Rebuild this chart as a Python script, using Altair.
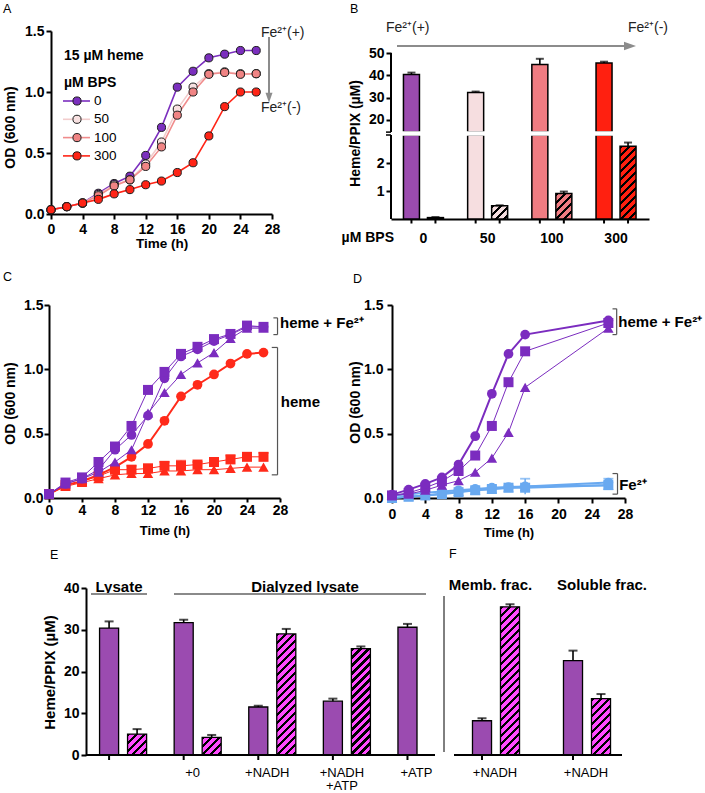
import math
import altair as alt
import pandas as pd

FONT = "Liberation Sans"
INK = "#000000"
GRAY = "#8c8c8c"
ONE = pd.DataFrame({"k": [0]})

# ---------------- Panel A: growth at increasing BPS ----------------
a_time = [0, 2, 4, 6, 8, 10, 12, 14, 16, 18, 20, 22, 24, 26]
a_levels = ["0", "50", "100", "300"]
a_od_0 = [0.035, 0.06, 0.09, 0.17, 0.25, 0.31, 0.48, 0.71, 1.04, 1.17, 1.28, 1.31, 1.34, 1.34]
a_od_50 = [0.035, 0.06, 0.09, 0.16, 0.24, 0.28, 0.41, 0.59, 0.86, 1.04, 1.15, 1.165, 1.15, 1.15]
a_od_100 = [0.035, 0.06, 0.09, 0.15, 0.23, 0.28, 0.39, 0.55, 0.81, 1.00, 1.145, 1.16, 1.145, 1.15]
a_od_300 = [0.035, 0.06, 0.09, 0.12, 0.165, 0.20, 0.24, 0.27, 0.34, 0.42, 0.64, 0.88, 1.00, 1.00]
a_fill = ["#7B2FBE", "#F8E1E1", "#F08484", "#FF2416"]
a_line = ["#7B2FBE", "#F2CDCD", "#F08C8C", "#FF2416"]

# ---------------- Panel B: heme / PPIX with BPS ----------------
b_bps = ["0", "50", "100", "300"]
b_heme = [40.4, 32.3, 44.8, 45.5]
b_heme_err = [0.8, 0.4, 2.6, 0.6]
b_ppix = [0.05, 0.47, 0.91, 2.6]
b_ppix_err = [0.02, 0.02, 0.07, 0.13]
b_colors = ["#9B4BAE", "#F6DEE0", "#F07C82", "#FF2010"]

# ---------------- Panel C: heme +/- Fe2+ ----------------
c_time = [0, 2, 4, 6, 8, 10, 12, 14, 16, 18, 20, 22, 24, 26]
c_hf_circle = [0.03, 0.11, 0.15, 0.22, 0.375, 0.49, 0.64, 0.93, 1.10, 1.155, 1.22, 1.27, 1.33, 1.33]
c_hf_square = [0.03, 0.12, 0.16, 0.28, 0.40, 0.56, 0.84, 0.98, 1.12, 1.175, 1.235, 1.275, 1.34, 1.33]
c_hf_triangle = [0.03, 0.11, 0.15, 0.20, 0.28, 0.375, 0.66, 0.82, 0.96, 1.05, 1.13, 1.24, 1.32, 1.32]
c_h_circle = [0.03, 0.10, 0.13, 0.18, 0.24, 0.32, 0.42, 0.60, 0.79, 0.88, 0.96, 1.045, 1.12, 1.13]
c_h_square = [0.03, 0.10, 0.13, 0.17, 0.22, 0.22, 0.23, 0.25, 0.25, 0.26, 0.28, 0.30, 0.32, 0.32]
c_h_square_err = [0, 0, 0, 0, 0.03, 0.03, 0.03, 0.03, 0.04, 0.02, 0.02, 0.03, 0.02, 0.03]
c_h_triangle = [0.03, 0.09, 0.12, 0.15, 0.18, 0.19, 0.19, 0.21, 0.21, 0.22, 0.22, 0.23, 0.24, 0.24]

# ---------------- Panel D: heme + Fe2+ vs Fe2+ only ----------------
d_time = [0, 2, 4, 6, 8, 10, 12, 14, 16, 26]
d_hf_circle = [0.026, 0.065, 0.11, 0.16, 0.26, 0.48, 0.81, 1.12, 1.27, 1.38]
d_hf_square = [0.02, 0.04, 0.08, 0.13, 0.21, 0.33, 0.56, 0.90, 1.14, 1.36]
d_hf_triangle = [0.02, 0.03, 0.06, 0.10, 0.135, 0.20, 0.31, 0.51, 0.86, 1.32]
d_f_circle = [0.02, 0.03, 0.04, 0.05, 0.06, 0.07, 0.08, 0.085, 0.09, 0.12]
d_f_circle_err = [0, 0, 0, 0, 0, 0.01, 0.01, 0.01, 0.06, 0.03]
d_f_square = [0.0, 0.01, 0.02, 0.03, 0.045, 0.06, 0.07, 0.08, 0.08, 0.10]
d_f_triangle = [0.0, 0.01, 0.02, 0.035, 0.05, 0.06, 0.07, 0.08, 0.09, 0.10]

# ---------------- Panels E / F: in vitro conversion ----------------
e_groups = ["Lysate", "+0", "+NADH", "+NADH+ATP", "+ATP"]
e_heme = [30.4, 31.7, 11.5, 12.9, 30.6]
e_heme_err = [1.6, 0.7, 0.3, 0.6, 0.8]
e_ppix = [5.0, 4.2, 29.0, 25.5, None]
e_ppix_err = [1.2, 0.6, 1.2, 0.5, None]
f_groups = ["Memb", "Soluble"]
f_heme = [8.2, 22.6]
f_heme_err = [0.6, 2.4]
f_ppix = [35.5, 13.5]
f_ppix_err = [0.6, 1.1]
HEME_PURPLE = "#9B4BB0"
PPIX_MAGENTA = "#FF4BFF"

LINE_PURPLE = "#7B2CBF"
LINE_RED = "#FF2A1A"
LINE_BLUE = "#69A9F0"


def ax(**kw):
    base = dict(domainColor=INK, domainWidth=2, tickColor=INK, tickWidth=2, tickSize=5,
                labelFont=FONT, labelFontSize=14, labelFontWeight="bold", labelColor=INK,
                titleFont=FONT, titleFontSize=14, titleFontWeight="bold", titleColor=INK,
                grid=False, labelFlush=False, labelOverlap=False, labelAngle=0)
    base.update(kw)
    return alt.Axis(**base)


def y_ax(values, title, tx, ty, pad=2, fmt=None, tsize=14, tick=5, **kw):
    opts = dict(values=values, title=title, titleX=tx, titleY=ty, titleAngle=270,
                titleAlign="center", titleBaseline="bottom", labelPadding=pad,
                titleFontSize=tsize, tickSize=tick, orient="left")
    if fmt:
        opts["format"] = fmt
    opts.update(kw)
    return ax(**opts)


def time_ax(w, ty, pad, tick=5, tsize=13.5):
    return ax(values=list(range(0, 29, 4)), title="Time (h)", titleX=w / 2, titleY=ty,
              titleAlign="center", titleBaseline="alphabetic", labelPadding=pad,
              tickSize=tick, titleFontSize=tsize)


def text_at(txt, x, y, size=14, weight="normal", align="left", baseline="middle", color=INK):
    return alt.Chart(ONE).mark_text(text=txt, align=align, baseline=baseline, fontSize=size,
                                    fontWeight=weight, font=FONT, color=color).encode(
        x=alt.value(x), y=alt.value(y))


def text_data(txt, x, y, xaxis, yaxis, size=15, weight="bold"):
    return alt.Chart(ONE).mark_text(text=txt, align="left", baseline="middle", fontSize=size,
                                    fontWeight=weight, font=FONT, color=INK).encode(
        x=alt.XDatum(x, axis=xaxis), y=alt.YDatum(y, axis=yaxis))


def hrule(x1, x2, y, color=INK, width=2):
    return alt.Chart(ONE).mark_rule(color=color, strokeWidth=width).encode(
        x=alt.value(x1), x2=alt.value(x2), y=alt.value(y))


def vrule(x, y1, y2, color=INK, width=1):
    return alt.Chart(ONE).mark_rule(color=color, strokeWidth=width).encode(
        x=alt.value(x), y=alt.value(y1), y2=alt.value(y2))


def anchor(x, y):
    # invisible 1x1 box that pins the extent of a panel group for the page layout
    return alt.Chart(ONE).mark_rect(opacity=0).encode(
        x=alt.value(x), x2=alt.value(x + 1), y=alt.value(y), y2=alt.value(y + 1))


def bracket(x, x_in, y_lo, y_hi, xaxis, yaxis, color="#555555"):
    mk = alt.Chart(ONE).mark_rule(color=color, strokeWidth=1.2)
    return [
        mk.encode(x=alt.XDatum(x, axis=xaxis), y=alt.YDatum(y_lo, axis=yaxis),
                  y2=alt.Y2Datum(y_hi)),
        mk.encode(x=alt.XDatum(x_in, axis=xaxis), x2=alt.X2Datum(x),
                  y=alt.YDatum(y_lo, axis=yaxis)),
        mk.encode(x=alt.XDatum(x_in, axis=xaxis), x2=alt.X2Datum(x),
                  y=alt.YDatum(y_hi, axis=yaxis)),
    ]


def hatch_fill(base, w, h, spacing=8.0, frac=0.4):
    # diagonal "///" stripes, laid out in the bar's own bounding box
    span = w + h
    stops = []
    k = 0
    while k * spacing < span:
        a = k * spacing / span
        b = min((k * spacing + frac * spacing) / span, 1.0)
        stops += [{"offset": a, "color": base}, {"offset": a, "color": INK},
                  {"offset": b, "color": INK}, {"offset": b, "color": base}]
        k += 1
    stops.append({"offset": 1.0, "color": base})
    den = w * w + h * h
    return {"gradient": "linear", "x1": 0, "y1": 0,
            "x2": span * w / den, "y2": span * h / den, "stops": stops}


def spacer(w, h):
    return alt.Chart(ONE).mark_point(opacity=0).encode(
        x=alt.value(0), y=alt.value(0)).properties(width=w, height=h)


def growth_layers(df, specs, xenc, yenc, yaxis):
    layers = []
    for name, color, shape, lw, size in specs:
        sub = alt.Chart(df).transform_filter(alt.datum.series == name)
        layers.append(sub.mark_line(color=color, strokeWidth=lw).encode(x=xenc, y=yenc))
        errs = sub.transform_filter(alt.datum.err > 0)
        layers.append(errs.mark_rule(color=color, strokeWidth=1.5).encode(
            x=xenc, y=alt.Y("lo:Q", axis=yaxis), y2="hi:Q"))
        layers.append(errs.mark_tick(color=color, orient="horizontal", size=10, thickness=1.8).encode(
            x=xenc, y=alt.Y("hi:Q", axis=yaxis)))
        layers.append(sub.mark_point(shape=shape, filled=True, fill=color, size=size,
                                     opacity=1).encode(x=xenc, y=yenc))
    return layers


def long_df(times, series):
    rows = []
    for name, vals, errs in series:
        errs = errs or [0] * len(vals)
        for t, v, e in zip(times, vals, errs):
            rows.append({"time": t, "series": name, "od": v, "lo": v - e, "hi": v + e, "err": e})
    return pd.DataFrame(rows)


# ======================= Panel A =======================
A_W, A_H = 221, 183
a_df = pd.DataFrame({
    "time": a_time * 4,
    "bps": [lv for lv in a_levels for _ in a_time],
    "od": a_od_0 + a_od_50 + a_od_100 + a_od_300,
})
xA = alt.X("time:Q", scale=alt.Scale(domain=[0, 28], nice=False, zero=False),
           axis=time_ax(A_W, 33, 3))
yA = alt.Y("od:Q", scale=alt.Scale(domain=[0, 1.5], nice=False),
           axis=y_ax([0, 0.5, 1.0, 1.5], "OD (600 nm)", -34, 96, fmt=".1f"))
la = [anchor(-50, -30), anchor(0, A_H + 49)]
for lv, fc, lc in zip(a_levels, a_fill, a_line):
    la.append(alt.Chart(a_df).transform_filter(alt.datum.bps == lv)
              .mark_line(color=lc, strokeWidth=1.6).encode(x=xA, y=yA))
for lv, fc, lc in zip(a_levels, a_fill, a_line):
    la.append(alt.Chart(a_df).transform_filter(alt.datum.bps == lv)
              .mark_point(shape="circle", filled=True, fill=fc, stroke="#1c1c1c",
                          strokeWidth=1, size=66, opacity=1).encode(x=xA, y=yA))
la.append(text_at("15 µM heme", 13, 25, weight="bold"))
la.append(text_at("µM BPS", 13, 52, weight="bold"))
for i, (lv, fc, lc) in enumerate(zip(a_levels, a_fill, a_line)):
    ly = 70 + i * 18.3
    la.append(hrule(12, 39, ly, color=lc, width=1.6))
    la.append(alt.Chart(ONE).mark_point(shape="circle", filled=True, fill=fc, stroke="#1c1c1c",
                                        strokeWidth=1, size=66, opacity=1).encode(
        x=alt.value(26), y=alt.value(ly)))
    la.append(text_at(lv, 43, ly, size=13.5))
la.append(vrule(218, 6, 63, color=GRAY, width=2))
la.append(alt.Chart(ONE).mark_point(shape="M-0.7,-1L0.7,-1L0,1Z", filled=True, fill=GRAY,
                                    size=100, opacity=1).encode(x=alt.value(218), y=alt.value(66.7)))
la.append(text_at("Fe²⁺(+)", 210, 2, color="#222222"))
la.append(text_at("Fe²⁺(-)", 210, 77, color="#222222"))
la.append(text_at("A", -48, -18, size=12.5, baseline="alphabetic"))
chart_a = alt.layer(*la).properties(width=A_W, height=A_H)

# ======================= Panel B (broken y axis in one view) =======================
B_W, B_H = 258, 183
B_TOP50 = 22.0            # pixel of 50 µM
B_TOP_PPU = 78.0 / 35.0   # pixels per µM, upper segment
B_BREAK_LO = 14.5         # lower end of the upper segment
B_ZERO = 188.0            # pixel of 0 µM (x axis sits 5 px under the view)
B_BOT_PPU = 28.0          # pixels per µM, lower segment
B_BOT_MAX = 3.0
top_dom = [50 - (B_H - B_TOP50) / B_TOP_PPU, 50 + B_TOP50 / B_TOP_PPU]
bot_dom = [(B_ZERO - B_H) / B_BOT_PPU, B_ZERO / B_BOT_PPU]
brk_top_px = B_TOP50 + (50 - B_BREAK_LO) * B_TOP_PPU
brk_bot_px = B_ZERO - B_BOT_MAX * B_BOT_PPU

b_rows = []
for g, hv, he, pv, pe in zip(b_bps, b_heme, b_heme_err, b_ppix, b_ppix_err):
    b_rows.append({"bps": g, "series": "heme", "value": hv, "top": hv + he})
    b_rows.append({"bps": g, "series": "ppix", "value": pv, "top": pv + pe})
b_df = pd.DataFrame(b_rows)
xB = alt.X("bps:N", sort=b_bps,
           scale=alt.Scale(domain=b_bps, paddingInner=0.377, paddingOuter=0.198, align=0.49),
           axis=ax(offset=B_ZERO - B_H, ticks=False, tickSize=0, labelPadding=12, title=None))
b_off = alt.XOffset("series:N", scale=alt.Scale(domain=["heme", "ppix"], paddingInner=1 / 3,
                                                paddingOuter=0))
b_fill = alt.Color("bps:N", scale=alt.Scale(domain=b_bps, range=b_colors), legend=None)


def yBt(field, axis=None):
    return alt.Y(f"{field}:Q", scale=alt.Scale(domain=top_dom, nice=False, zero=False), axis=axis)


def yBb(field, axis=None):
    return alt.Y(f"{field}:Q", scale=alt.Scale(domain=bot_dom, nice=False, zero=False), axis=axis)


b_top_axis = y_ax([20, 30, 40, 50], "Heme/PPIX (µM)", -29, 102, domain=False)
b_bot_axis = y_ax([1, 2], None, -29, 0, domain=False)
b_h = alt.Chart(b_df).transform_filter(alt.datum.series == "heme")
b_p = alt.Chart(b_df).transform_filter(alt.datum.series == "ppix")
lb = [
    b_h.mark_bar(stroke=INK, strokeWidth=1.5).encode(
        x=xB, xOffset=b_off, y=yBt("value", b_top_axis), y2=alt.Y2Datum(B_BREAK_LO), color=b_fill),
    b_h.transform_calculate(low=f"min(datum.value, {B_BOT_MAX})").mark_bar(
        stroke=INK, strokeWidth=1.5).encode(
        x=xB, xOffset=b_off, y=yBb("low", b_bot_axis), y2=alt.Y2Datum(0), color=b_fill),
]
for g, pv, col in zip(b_bps, b_ppix, b_colors):
    lb.append(alt.Chart(b_df).transform_filter(
        f"datum.bps == '{g}' && datum.series == 'ppix'").mark_bar(
        fill=hatch_fill(col, 16.0, pv * B_BOT_PPU), stroke=INK, strokeWidth=1.5).encode(
        x=xB, xOffset=b_off, y=yBb("value"), y2=alt.Y2Datum(0)))
lb += [
    # white gap across the bars at the axis break
    alt.Chart(ONE).mark_rect(color="white").encode(
        x=alt.value(1), x2=alt.value(B_W), y=alt.value(brk_top_px - 0.8),
        y2=alt.value(brk_bot_px + 0.8)),
    b_h.mark_rule(color=INK, strokeWidth=1.6).encode(
        x=xB, xOffset=b_off, y=yBt("value"), y2="top:Q"),
    b_h.mark_tick(color=INK, orient="horizontal", size=8, thickness=2).encode(
        x=xB, xOffset=b_off, y=yBt("top")),
    b_p.mark_rule(color=INK, strokeWidth=1.6).encode(
        x=xB, xOffset=b_off, y=yBb("value"), y2="top:Q"),
    b_p.mark_tick(color=INK, orient="horizontal", size=8, thickness=2).encode(
        x=xB, xOffset=b_off, y=yBb("top")),
    vrule(0, B_TOP50, brk_top_px, width=2),
    vrule(0, brk_bot_px, B_ZERO, width=2),
    hrule(-5, 0, brk_top_px, width=1.5),
    hrule(-5, 0, brk_bot_px, width=1.5),
    alt.Chart(b_df).mark_rule(color=INK, strokeWidth=2).encode(
        x=xB, xOffset=b_off, y=alt.value(B_ZERO), y2=alt.value(B_ZERO + 4.5)),
    hrule(6, 234, 15, color=GRAY, width=2),
    alt.Chart(ONE).mark_point(shape="M-1,-0.7L-1,0.7L1,0Z", filled=True, fill=GRAY, size=144,
                              opacity=1).encode(x=alt.value(239), y=alt.value(15)),
    text_at("Fe²⁺(+)", -5, -3, color="#222222"),
    text_at("Fe²⁺(-)", 237, -3, color="#222222"),
    text_at("µM BPS", 3, 207, weight="bold", align="right"),
    text_at("B", -41, -18, size=12.5, baseline="alphabetic"),
]
chart_b = alt.layer(*lb).resolve_scale(y="independent").properties(width=B_W, height=B_H)

# ======================= Panel C =======================
C_W, C_H = 231, 193
c_df = long_df(c_time, [
    ("h_circle", c_h_circle, None), ("h_square", c_h_square, c_h_square_err),
    ("h_triangle", c_h_triangle, None), ("hf_triangle", c_hf_triangle, None),
    ("hf_circle", c_hf_circle, None), ("hf_square", c_hf_square, None),
])
axC_x = time_ax(C_W, 36, 1, tick=4, tsize=13)
axC_y = y_ax([0, 0.5, 1.0, 1.5], "OD (600 nm)", -32, 98, pad=1, fmt=".1f")
xC = alt.X("time:Q", scale=alt.Scale(domain=[0, 28], nice=False, zero=False), axis=axC_x)
yC = alt.Y("od:Q", scale=alt.Scale(domain=[0, 1.5], nice=False), axis=axC_y)
c_specs = [
    ("h_circle", LINE_RED, "circle", 2.0, 95),
    ("h_square", LINE_RED, "square", 1.0, 100),
    ("h_triangle", LINE_RED, "triangle-up", 1.0, 110),
    ("hf_triangle", LINE_PURPLE, "triangle-up", 1.0, 110),
    ("hf_circle", LINE_PURPLE, "circle", 1.0, 95),
    ("hf_square", LINE_PURPLE, "square", 1.0, 100),
]
lc = [anchor(0, -36), anchor(0, C_H + 42)]
lc += growth_layers(c_df, c_specs, xC, yC, axC_y)
lc += bracket(27.7, 27.2, 1.27, 1.40, axC_x, axC_y)
lc += bracket(27.7, 27.0, 0.18, 1.17, axC_x, axC_y)
lc.append(text_data("heme + Fe²⁺", 28.0, 1.36, axC_x, axC_y))
lc.append(text_data("heme", 28.1, 0.75, axC_x, axC_y))
lc.append(text_at("C", -46, -24, size=12.5, baseline="alphabetic"))
chart_c = alt.layer(*lc).properties(width=C_W, height=C_H)

# ======================= Panel D =======================
D_W, D_H = 233, 193
d_df = long_df(d_time, [
    ("f_circle", d_f_circle, d_f_circle_err), ("f_square", d_f_square, None),
    ("f_triangle", d_f_triangle, None), ("hf_triangle", d_hf_triangle, None),
    ("hf_square", d_hf_square, None), ("hf_circle", d_hf_circle, None),
])
axD_x = time_ax(D_W, 38, 4, tsize=13)
axD_y = y_ax([0, 0.5, 1.0, 1.5], "OD (600 nm)", -30, 97, pad=4, fmt=".1f")
xD = alt.X("time:Q", scale=alt.Scale(domain=[0, 28], nice=False, zero=False), axis=axD_x)
yD = alt.Y("od:Q", scale=alt.Scale(domain=[0, 1.5], nice=False), axis=axD_y)
d_specs = [
    ("f_square", LINE_BLUE, "square", 2.0, 100),
    ("f_triangle", LINE_BLUE, "triangle-up", 2.0, 110),
    ("f_circle", LINE_BLUE, "circle", 2.0, 95),
    ("hf_triangle", LINE_PURPLE, "triangle-up", 1.0, 110),
    ("hf_square", LINE_PURPLE, "square", 1.0, 100),
    ("hf_circle", LINE_PURPLE, "circle", 2.0, 95),
]
ld = growth_layers(d_df, d_specs, xD, yD, axD_y)
ld += bracket(27.0, 26.5, 1.27, 1.47, axD_x, axD_y)
ld += bracket(27.1, 26.5, 0.03, 0.19, axD_x, axD_y)
ld.append(text_data("heme + Fe²⁺", 27.2, 1.37, axD_x, axD_y))
ld.append(text_data("Fe²⁺", 27.3, 0.10, axD_x, axD_y))
ld.append(text_at("D", -39, -22, size=12.5, baseline="alphabetic"))
chart_d = alt.layer(*ld).properties(width=D_W, height=D_H)

# ======================= Panels E and F =======================
E_W, F_W, EF_H = 359, 180, 167
PX_PER_UM = EF_H / 40.0
BAR_W = 47.04 / 1.68 * 0.68


def bar_rows(groups, heme, heme_err, ppix, ppix_err):
    rows = []
    for g, hv, he, pv, pe in zip(groups, heme, heme_err, ppix, ppix_err):
        rows.append({"group": g, "series": "heme", "value": hv, "top": hv + he})
        if pv is not None:
            rows.append({"group": g, "series": "ppix", "value": pv, "top": pv + pe})
    return pd.DataFrame(rows)


ef_off = alt.XOffset("series:N", scale=alt.Scale(domain=["heme", "ppix"], paddingInner=0.32,
                                                 paddingOuter=0))
yEF_scale = alt.Scale(domain=[0, 40], nice=False)


def bar_panel(df, groups, xenc, yenc, ppix_vals):
    src_h = alt.Chart(df).transform_filter(alt.datum.series == "heme")
    layers = [src_h.mark_bar(fill=HEME_PURPLE, stroke=INK, strokeWidth=1.3).encode(
        x=xenc, xOffset=ef_off, y=yenc)]
    for g, pv in zip(groups, ppix_vals):
        if pv is None:
            continue
        layers.append(alt.Chart(df).transform_filter(
            f"datum.group == '{g}' && datum.series == 'ppix'").mark_bar(
            fill=hatch_fill(PPIX_MAGENTA, BAR_W, pv * PX_PER_UM), stroke=INK,
            strokeWidth=1.3).encode(x=xenc, xOffset=ef_off, y=yenc))
    src = alt.Chart(df)
    layers += [
        src.mark_rule(color=INK, strokeWidth=1.6).encode(
            x=xenc, xOffset=ef_off, y=alt.Y("value:Q"), y2="top:Q"),
        src.mark_tick(color=INK, orient="horizontal", size=9, thickness=2).encode(
            x=xenc, xOffset=ef_off, y=alt.Y("top:Q")),
        src_h.mark_rule(color=INK, strokeWidth=2).encode(
            x=xenc, xOffset=ef_off, y=alt.value(EF_H), y2=alt.value(EF_H + 5)),
    ]
    return layers


e_df = bar_rows(e_groups, e_heme, e_heme_err, e_ppix, e_ppix_err)
xE = alt.X("group:N", sort=e_groups,
           scale=alt.Scale(domain=e_groups, paddingInner=0.3694, paddingOuter=0.0909, align=1.0),
           axis=ax(domain=False, ticks=False, tickSize=0, labelPadding=11, labelOffset=-5,
                   labelFontWeight="normal", labelFontSize=13, labelLineHeight=13, title=None,
                   labelExpr="datum.value == 'Lysate' ? '' : (datum.value == '+NADH+ATP' ? "
                             "['+NADH', '+ATP'] : datum.value)"))
yE = alt.Y("value:Q", scale=yEF_scale,
           axis=y_ax([0, 10, 20, 30, 40], "Heme/PPIX (µM)", -29, 84, pad=2, tsize=15))
le = [anchor(0, -42)]
le += bar_panel(e_df, e_groups, xE, yE, e_ppix)
le += [
    hrule(0, 349, EF_H, width=2),
    text_at("Lysate", 33, 3.5, size=15, weight="bold", align="center", baseline="alphabetic"),
    hrule(5, 61, 6, color="#8a8a8a", width=2),
    text_at("Dialyzed lysate", 219, 3.5, size=15, weight="bold", align="center",
            baseline="alphabetic"),
    hrule(88, 340, 6, color="#8a8a8a", width=2),
    text_at("E", -36, -29, size=12.5, baseline="alphabetic"),
]
chart_e = alt.layer(*le).properties(width=E_W, height=EF_H)

f_df = bar_rows(f_groups, f_heme, f_heme_err, f_ppix, f_ppix_err)
xF = alt.X("group:N", sort=f_groups,
           scale=alt.Scale(domain=f_groups, paddingInner=0.4831, paddingOuter=0.2306, align=0.655),
           axis=ax(domain=False, ticks=False, tickSize=0, labelPadding=11, labelOffset=-1,
                   labelFontWeight="normal", labelFontSize=13, title=None,
                   labelExpr="'+NADH'"))
yF = alt.Y("value:Q", scale=yEF_scale, axis=None)
lf = bar_panel(f_df, f_groups, xF, yF, f_ppix)
lf += [
    hrule(9, 177, EF_H, width=2),
    vrule(-1, 8, 164, width=1),
    text_at("Memb. frac.", 45.5, 2, size=15, weight="bold", align="center",
            baseline="alphabetic"),
    text_at("Soluble frac.", 157, 2, size=15, weight="bold", align="center",
            baseline="alphabetic"),
    text_at("F", 4, -30, size=12.5, baseline="alphabetic"),
]
chart_f = alt.layer(*lf).properties(width=F_W, height=EF_H)

# ======================= Layout =======================
IND = dict(x="independent", y="independent", xOffset="independent", color="independent")
row1 = alt.hconcat(spacer(2, A_H), chart_a, spacer(119, A_H), chart_b, spacing=0,
                   bounds="flush").resolve_scale(**IND)
row2 = alt.hconcat(chart_c, spacer(112, D_H), chart_d, spacing=0,
                   bounds="flush").resolve_scale(**IND)
row3 = alt.hconcat(spacer(37, EF_H), chart_e, chart_f, spacing=0,
                   bounds="flush").resolve_scale(**IND)
chart = alt.vconcat(row1, row2, row3, spacing=3).resolve_scale(**IND).properties(
    padding={"left": 0, "top": 0, "right": 0, "bottom": 0}
).configure(font=FONT).configure_view(stroke="transparent")

chart.save("out.html", embed_options={"renderer": "svg", "actions": False})
